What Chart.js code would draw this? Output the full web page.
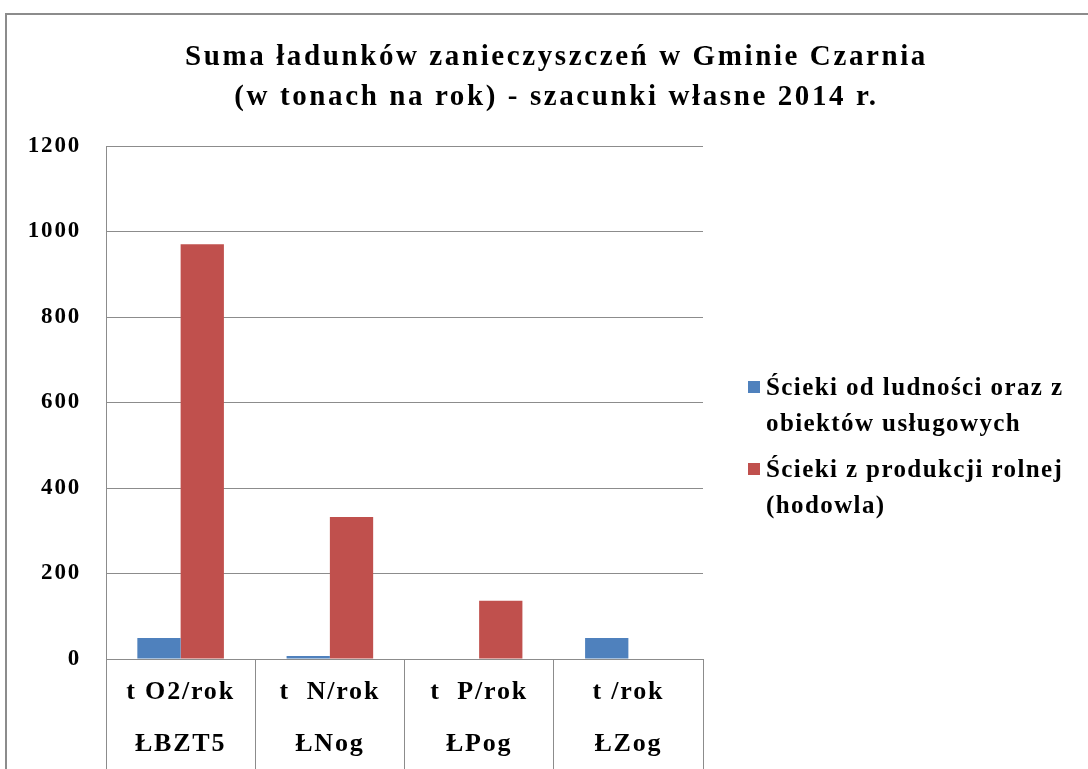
<!DOCTYPE html>
<html>
<head>
<meta charset="utf-8">
<script src="https://cdn.jsdelivr.net/npm/chart.js@4/dist/chart.umd.min.js"></script>
<style>
    html, body { margin: 0; padding: 0; background: #fff; overflow: hidden; }
    #frame {
        position: absolute; left: 5px; top: 13px; width: 1200px; height: 900px;
        border: 2px solid #8c8c8c; box-sizing: border-box;
    }
    #wrap { position: absolute; left: 0; top: 0; width: 1088px; height: 769px; }
    #title {
        position: absolute; left: 0; top: 35px; width: 1113px; text-align: center;
        font-family: "Liberation Serif", "DejaVu Serif", serif; font-weight: bold;
        font-size: 29px; line-height: 40px; letter-spacing: 2.6px; color: #000;
    }
    #legend {
        position: absolute; left: 748px; top: 369px; width: 340px;
        font-family: "Liberation Serif", "DejaVu Serif", serif; font-weight: bold;
        font-size: 25px; line-height: 36px; letter-spacing: 1.4px; color: #000;
    }
    .item { position: relative; padding-left: 18px; margin-bottom: 10px; }
    .box { position: absolute; left: 0; top: 12px; width: 12px; height: 12px; }
</style>
</head>
<body>
<div id="frame"></div>
<div id="wrap"><canvas id="chart" width="1088" height="769"></canvas></div>
<div id="title"></div>
<div id="legend"></div>
<script>
let titleLines = ["Suma ładunków zanieczyszczeń w Gminie Czarnia", "(w tonach na rok) - szacunki własne 2014 r."];
let unitLabels = ["t O2/rok", "t  N/rok", "t  P/rok", "t /rok"];
let indicatorLabels = ["ŁBZT5", "ŁNog", "ŁPog", "ŁZog"];
let seriesNames = ["Ścieki od ludności oraz z obiektów usługowych", "Ścieki z produkcji rolnej (hodowla)"];
let populationValues = [49, 7, 0, 49];
let farmingValues = [970, 332, 136, 0];
let yTicks = [0, 200, 400, 600, 800, 1000, 1200];
let colors = ["#4F81BD", "#C0504D"];

let serif = "'Liberation Serif', 'DejaVu Serif', serif";

let labels = unitLabels.map(function (u, i) { return [u, indicatorLabels[i]]; });

// wider letters, closer to the Garamond look of the original
let spacing = {
    id: "spacing",
    beforeInit: function (chart) { chart.ctx.letterSpacing = "1.8px"; },
    beforeLayout: function (chart) { chart.ctx.letterSpacing = "1.8px"; },
    beforeDraw: function (chart) { chart.ctx.letterSpacing = "1.8px"; }
};

new Chart(document.getElementById("chart").getContext("2d"), {
    type: "bar",
    data: {
        labels: labels,
        datasets: [
            { label: seriesNames[0], data: populationValues, backgroundColor: colors[0] },
            { label: seriesNames[1], data: farmingValues, backgroundColor: colors[1] }
        ]
    },
    plugins: [spacing],
    options: {
        animation: false,
        responsive: false,
        layout: { padding: { left: 0, right: 385, top: 146, bottom: 0 } },
        datasets: { bar: { barPercentage: 1, categoryPercentage: 0.58 } },
        scales: {
            y: {
                min: 0,
                max: 1200,
                afterBuildTicks: function (axis) {
                    axis.ticks = yTicks.map(function (v) { return { value: v }; });
                },
                afterFit: function (axis) { axis.width = 106; },
                grid: { color: "#8c8c8c", lineWidth: 1, drawTicks: false },
                border: { color: "#8c8c8c", width: 1 },
                ticks: {
                    color: "#000",
                    padding: 25,
                    callback: function (v) { return String(v); },
                    font: { family: serif, weight: "bold", size: 23 }
                }
            },
            x: {
                afterFit: function (axis) { axis.height = 110; },
                grid: {
                    offset: true,
                    drawOnChartArea: false,
                    color: "#8c8c8c",
                    tickLength: 115
                },
                border: { color: "#8c8c8c", width: 1 },
                ticks: {
                    color: "#000",
                    padding: -108,
                    maxRotation: 0,
                    autoSkip: false,
                    font: { family: serif, weight: "bold", size: 26, lineHeight: 2.0 }
                }
            }
        },
        plugins: {
            legend: { display: false },
            tooltip: { enabled: false },
            title: { display: false }
        }
    }
});

document.getElementById("title").innerHTML = titleLines.join("<br>");

let legendEl = document.getElementById("legend");
seriesNames.forEach(function (name, i) {
    let item = document.createElement("div");
    item.className = "item";
    item.innerHTML = '<span class="box" style="background:' + colors[i] + '"></span>' + name;
    legendEl.appendChild(item);
});
</script>
</body>
</html>
